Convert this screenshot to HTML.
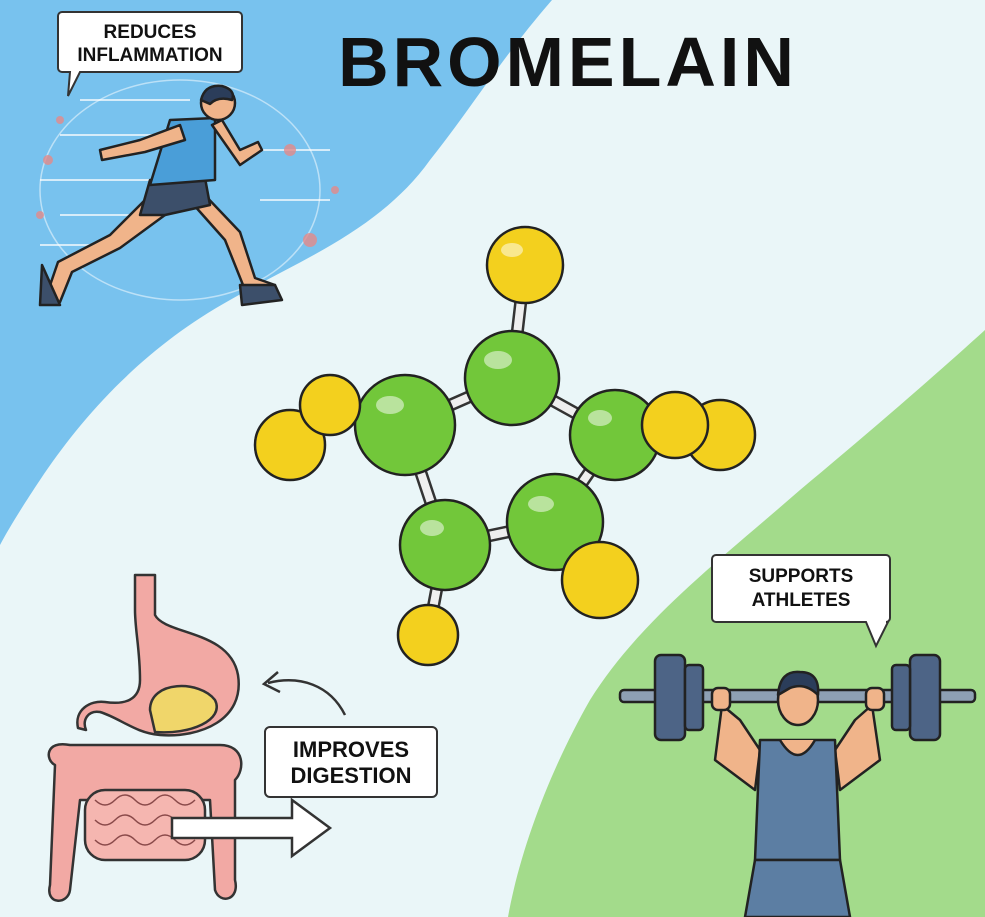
<!DOCTYPE html>
<html><head><meta charset="utf-8"><style>
html,body{margin:0;padding:0;width:985px;height:917px;overflow:hidden;background:#eef8f9}
svg{display:block}
text{font-family:"Liberation Sans",sans-serif;font-weight:bold}
</style></head><body>
<svg width="985" height="917" viewBox="0 0 985 917" xmlns="http://www.w3.org/2000/svg">
<rect width="985" height="917" fill="#eaf6f8"/>
<path d="M0 0 L552 0 C500 60 470 110 430 160 C380 230 300 260 230 300 C140 350 80 420 40 480 C20 510 8 530 0 545 Z" fill="#78c2ee"/>
<path d="M985 330 C930 380 860 440 800 490 C720 560 640 620 590 700 C550 770 520 850 508 917 L985 917 Z" fill="#a3db8b"/>

<text x="568" y="86" font-size="70" text-anchor="middle" fill="#111" letter-spacing="4">BROMELAIN</text>

<g stroke="#333" stroke-width="2" fill="#fff">
<path d="M62 12 H238 a4 4 0 0 1 4 4 V68 a4 4 0 0 1 -4 4 H80 L68 96 L70 72 H62 a4 4 0 0 1 -4 -4 V16 a4 4 0 0 1 4 -4 Z"/>
<path d="M716 555 H886 a4 4 0 0 1 4 4 V618 a4 4 0 0 1 -4 4 H888 L876 646 L866 622 H716 a4 4 0 0 1 -4 -4 V559 a4 4 0 0 1 4 -4 Z"/>
<rect x="265" y="727" width="172" height="70" rx="5"/>
</g>
<g font-size="19" fill="#111" text-anchor="middle">
<text x="150" y="38">REDUCES</text><text x="150" y="61">INFLAMMATION</text>
<text x="801" y="582">SUPPORTS</text><text x="801" y="606">ATHLETES</text>
</g>
<g font-size="22" fill="#111" text-anchor="middle">
<text x="351" y="757">IMPROVES</text><text x="351" y="783">DIGESTION</text>
</g>

<g stroke="#333" stroke-width="13" stroke-linecap="round">
<line x1="512" y1="378" x2="525" y2="265"/><line x1="512" y1="378" x2="405" y2="425"/>
<line x1="512" y1="378" x2="615" y2="435"/><line x1="405" y1="425" x2="445" y2="545"/>
<line x1="445" y1="545" x2="555" y2="522"/><line x1="555" y1="522" x2="615" y2="435"/>
<line x1="405" y1="425" x2="330" y2="405"/><line x1="330" y1="405" x2="290" y2="445"/>
<line x1="615" y1="435" x2="675" y2="425"/><line x1="555" y1="522" x2="600" y2="580"/>
<line x1="445" y1="545" x2="428" y2="635"/>
</g>
<g stroke="#eee" stroke-width="8" stroke-linecap="round">
<line x1="512" y1="378" x2="525" y2="265"/><line x1="512" y1="378" x2="405" y2="425"/>
<line x1="512" y1="378" x2="615" y2="435"/><line x1="405" y1="425" x2="445" y2="545"/>
<line x1="445" y1="545" x2="555" y2="522"/><line x1="555" y1="522" x2="615" y2="435"/>
<line x1="555" y1="522" x2="600" y2="580"/><line x1="445" y1="545" x2="428" y2="635"/>
</g>
<g stroke="#222" stroke-width="2.5">
<circle cx="525" cy="265" r="38" fill="#f3d01e"/>
<circle cx="290" cy="445" r="35" fill="#f3d01e"/>
<circle cx="720" cy="435" r="35" fill="#f3d01e"/>
<circle cx="512" cy="378" r="47" fill="#72c73a"/>
<circle cx="405" cy="425" r="50" fill="#72c73a"/>
<circle cx="615" cy="435" r="45" fill="#72c73a"/>
<circle cx="445" cy="545" r="45" fill="#72c73a"/>
<circle cx="555" cy="522" r="48" fill="#72c73a"/>
<circle cx="330" cy="405" r="30" fill="#f3d01e"/>
<circle cx="675" cy="425" r="33" fill="#f3d01e"/>
<circle cx="600" cy="580" r="38" fill="#f3d01e"/>
<circle cx="428" cy="635" r="30" fill="#f3d01e"/>
</g>
<g fill="#fff" opacity="0.5">
<ellipse cx="498" cy="360" rx="14" ry="9"/><ellipse cx="390" cy="405" rx="14" ry="9"/>
<ellipse cx="600" cy="418" rx="12" ry="8"/><ellipse cx="432" cy="528" rx="12" ry="8"/>
<ellipse cx="541" cy="504" rx="13" ry="8"/><ellipse cx="512" cy="250" rx="11" ry="7"/>
</g>

<g stroke="#fff" stroke-width="2" opacity="0.7">
<line x1="80" y1="100" x2="190" y2="100"/><line x1="60" y1="135" x2="170" y2="135"/>
<line x1="40" y1="180" x2="150" y2="180"/><line x1="60" y1="215" x2="150" y2="215"/>
<line x1="40" y1="245" x2="110" y2="245"/><line x1="260" y1="150" x2="330" y2="150"/>
<line x1="260" y1="200" x2="330" y2="200"/>
</g>
<ellipse cx="180" cy="190" rx="140" ry="110" fill="none" stroke="#fff" stroke-width="1.5" opacity="0.5"/>
<g stroke="#222" stroke-width="2.5" stroke-linejoin="round">
<path d="M150 195 L110 235 L58 262 L45 300 L60 302 L72 272 L120 248 L165 215 Z" fill="#f0b48a"/>
<path d="M185 195 L225 240 L245 290 L275 298 L275 285 L255 278 L240 232 L200 190 Z" fill="#f0b48a"/>
<path d="M150 180 L205 178 L210 205 L165 215 L140 215 Z" fill="#3c4f6a"/>
<path d="M170 120 L215 118 L215 180 L150 185 Z" fill="#4a9ed8"/>
<path d="M180 125 L140 140 L100 150 L102 160 L145 152 L185 140 Z" fill="#f0b48a"/>
<path d="M212 125 L240 165 L262 150 L258 142 L240 150 L222 120 Z" fill="#f0b48a"/>
<circle cx="218" cy="103" r="17" fill="#f0b48a"/>
<path d="M201 100 Q205 84 222 86 Q236 90 232 100 Q218 96 210 104 Z" fill="#2b3d5a"/>
<path d="M42 265 L40 305 L60 305 Z" fill="#3c4f6a"/>
<path d="M240 285 L242 305 L282 300 L275 285 Z" fill="#3c4f6a"/>
</g>
<g fill="#e48a8a" opacity="0.8"><circle cx="48" cy="160" r="5"/><circle cx="290" cy="150" r="6"/><circle cx="310" cy="240" r="7"/><circle cx="335" cy="190" r="4"/><circle cx="40" cy="215" r="4"/><circle cx="60" cy="120" r="4"/></g>

<g stroke="#333" stroke-width="2.5" stroke-linejoin="round">
<path d="M135 575 H155 V615 C165 635 230 630 238 675 C245 720 200 738 160 735 C135 733 120 718 100 712 C88 710 82 720 86 730 L78 728 C74 710 90 700 105 702 C125 705 140 700 140 680 C140 650 135 630 135 610 Z" fill="#f2a9a4"/>
<path d="M150 710 C150 680 200 680 215 700 C225 720 190 735 155 732 Z" fill="#f0d66a"/>
<path d="M55 765 C45 760 45 740 70 745 L220 745 C245 745 245 770 235 780 L235 880 C240 900 220 905 215 890 L210 800 L80 800 L70 890 C68 905 45 905 50 885 Z" fill="#f2a9a4"/>
<rect x="85" y="790" width="120" height="70" rx="20" fill="#f5b6b0"/>
</g>
<g fill="none" stroke="#8a4a4a" stroke-width="1.5">
<path d="M95 800 q10 10 20 0 q10 -10 20 0 q10 10 20 0 q10 -10 20 0 q10 10 20 0"/>
<path d="M95 820 q10 10 20 0 q10 -10 20 0 q10 10 20 0 q10 -10 20 0 q10 10 20 0"/>
<path d="M95 840 q10 10 20 0 q10 -10 20 0 q10 10 20 0 q10 -10 20 0 q10 10 20 0"/>
</g>
<path d="M172 818 H292 V800 L330 828 L292 856 V838 H172 Z" fill="#fff" stroke="#333" stroke-width="2.5"/>
<path d="M345 715 C330 685 300 675 268 683" fill="none" stroke="#333" stroke-width="2.5"/>
<path d="M278 672 L264 684 L280 692" fill="none" stroke="#333" stroke-width="2.5"/>

<g stroke="#222" stroke-width="2.5" stroke-linejoin="round">
<rect x="620" y="690" width="355" height="12" rx="4" fill="#8ea0b4"/>
<rect x="655" y="655" width="30" height="85" rx="6" fill="#4d6486"/>
<rect x="685" y="665" width="18" height="65" rx="4" fill="#4d6486"/>
<rect x="910" y="655" width="30" height="85" rx="6" fill="#4d6486"/>
<rect x="892" y="665" width="18" height="65" rx="4" fill="#4d6486"/>
<path d="M722 705 L715 760 L755 790 L760 750 L740 720 Z" fill="#f0b48a"/>
<path d="M872 705 L880 760 L840 790 L835 750 L855 720 Z" fill="#f0b48a"/>
<path d="M760 740 L835 740 L840 860 L755 860 Z" fill="#5c7ea3"/>
<path d="M755 860 L840 860 L850 917 L745 917 Z" fill="#5c7ea3"/>
<path d="M780 740 Q798 770 815 740" fill="#f0b48a"/>
<ellipse cx="798" cy="700" rx="20" ry="25" fill="#f0b48a"/>
<path d="M778 695 Q780 670 800 672 Q820 672 818 695 Q805 682 790 688 Z" fill="#2b3d5a"/>
<rect x="712" y="688" width="18" height="22" rx="6" fill="#f0b48a"/>
<rect x="866" y="688" width="18" height="22" rx="6" fill="#f0b48a"/>
</g>
</svg>
</body></html>
